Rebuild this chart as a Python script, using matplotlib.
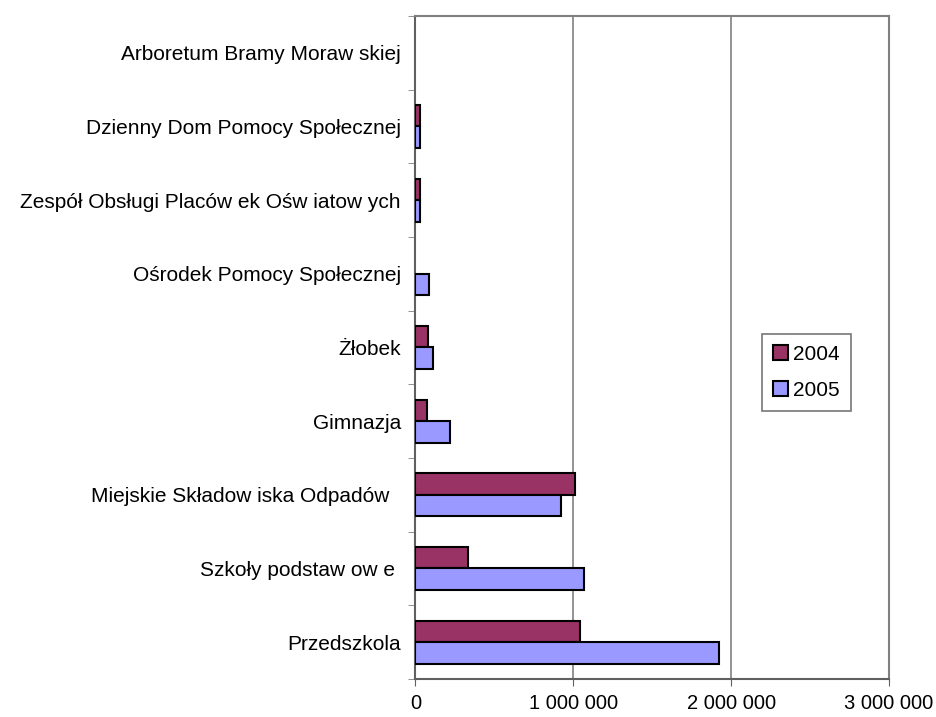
import matplotlib.pyplot as plt
import matplotlib.ticker as mticker
import numpy as np

plt.rcParams['font.family'] = ['Liberation Sans', 'DejaVu Sans']

# categories from bottom to top
categories = [
    "Przedszkola",
    "Szkoły podstaw ow e ",
    "Miejskie Składow iska Odpadów  ",
    "Gimnazja",
    "Żłobek",
    "Ośrodek Pomocy Społecznej",
    "Zespół Obsługi Placów ek Ośw iatow ych",
    "Dzienny Dom Pomocy Społecznej",
    "Arboretum Bramy Moraw skiej",
]
values_2004 = [1045000, 335000, 1010000, 70000, 82000, 0, 28000, 28000, 0]
values_2005 = [1920000, 1070000, 925000, 220000, 108000, 85000, 28000, 28000, 0]
x_ticks = [0, 1000000, 2000000, 3000000]

fig = plt.figure(figsize=(9.37, 7.17), dpi=100)
ax = fig.add_axes([0.4434, 0.053, 0.5054, 0.9247])

y = np.arange(len(categories))
h = 0.29
# zero values get no outline, as in the original
lw04 = [1.5 if v > 0 else 0 for v in values_2004]
lw05 = [1.5 if v > 0 else 0 for v in values_2005]
ax.barh(y + h / 2, values_2004, height=h, color='#993366',
        edgecolor='black', linewidth=lw04, label='2004', zorder=3)
ax.barh(y - h / 2, values_2005, height=h, color='#9999FF',
        edgecolor='black', linewidth=lw05, label='2005', zorder=3)

ax.set_xlim(0, 3000000)
ax.set_ylim(-0.5, len(categories) - 0.5)
ax.set_xticks(x_ticks)
ax.xaxis.set_major_formatter(mticker.FuncFormatter(
    lambda v, p: f"{int(v):,}".replace(",", " ")))
ax.set_yticks(y)
ax.set_yticklabels(categories)
ax.set_yticks(np.arange(len(categories) + 1) - 0.5, minor=True)
ax.tick_params(axis='y', which='major', length=0, pad=10.5, labelsize=15)
ax.tick_params(axis='y', which='minor', length=5, color='#808080')
ax.tick_params(axis='x', length=5, color='#606060', pad=6, labelsize=14.5)
# last label sits a little left in the original, so it fits the page
ax.get_xticklabels()[-1].set_horizontalalignment('center')
ax.get_xticklabels()[-1].set_x(3000000)

ax.grid(axis='x', color='#808080', linewidth=1.2, zorder=0)
for side in ['top', 'right']:
    ax.spines[side].set_color('#808080')
    ax.spines[side].set_linewidth(1.5)
for side in ['left', 'bottom']:
    ax.spines[side].set_color('#606060')
    ax.spines[side].set_linewidth(1.5)

leg = ax.legend(loc='upper left', bbox_to_anchor=(0.731, 0.521),
                fontsize=15, fancybox=False, frameon=True,
                handlelength=0.72, handleheight=0.72, handletextpad=0.25,
                borderpad=0.55, labelspacing=0.8, borderaxespad=0)
leg.get_frame().set_edgecolor('#555555')
leg.get_frame().set_linewidth(1.2)

fig.savefig('out.png', dpi=100)
